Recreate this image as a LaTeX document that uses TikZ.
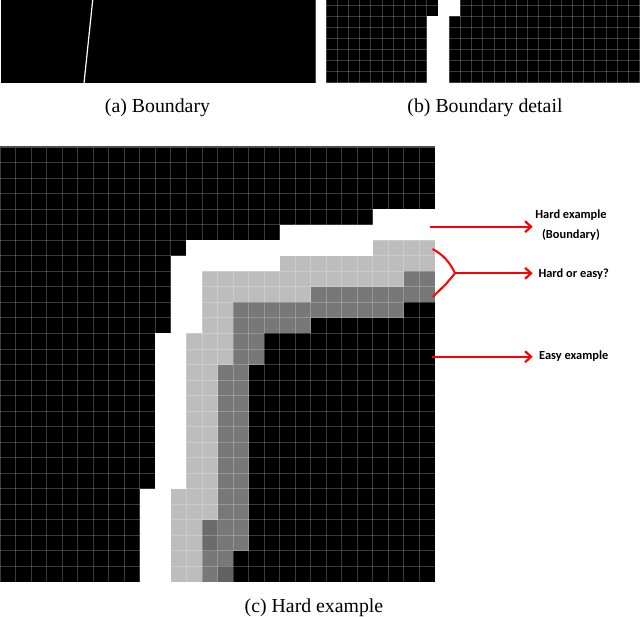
\documentclass[tikz,border=0pt]{standalone}
\usepackage{fontspec}
\setmainfont{Liberation Serif}
\newfontfamily\capfont{Liberation Serif}
\newfontfamily\lblfont{Carlito}
\usetikzlibrary{arrows.meta}
\definecolor{lgray}{HTML}{BDBDBD}
\definecolor{mgray}{HTML}{787878}
\definecolor{lred}{HTML}{FF0000}
\begin{document}
\begin{tikzpicture}[x=1pt,y=-1pt,
  captxt/.style={font=\capfont\fontsize{19.8}{22}\selectfont, anchor=base, inner sep=0pt},
  lbl/.style={font=\lblfont\bfseries\fontsize{12.4}{14}\selectfont, anchor=base west, inner sep=0pt},
  redarrow/.style={draw=lred, line width=2.2pt, -{Straight Barb[length=6pt,width=11pt]}},
  redline/.style={draw=lred, line width=2pt, line cap=round, line join=round},
  gridl/.style={white, opacity=0.22, line width=0.9pt}
]
\useasboundingbox (0,0) rectangle (640,617);

% ---------- panel (a)
\fill[black] (1,0) rectangle (315,83.3);
\draw[white, line width=1.2pt] (92.7,0) -- (84,83.3);
\draw[black!70, line width=0.8pt] (315,0) -- (315,83.3);
\node[captxt] (capa) at (157.5,112.5) {(a) Boundary};

% ---------- panel (b)
\begin{scope}
  \clip (325.5,0) rectangle (640,83.2);
  \fill[black] (326,0) rectangle (640,82.7);
  \begin{scope}[shift={(326,-6.1)}, x=11.2pt, y=-11.1pt]
    \fill[white] (10,0) rectangle (12,2);
    \fill[white] (9,2) rectangle (11,8);
    \foreach \i in {0,...,28} \draw[gridl] (\i,0) -- (\i,8);
    \foreach \j in {0,...,8} \draw[gridl] (0,\j) -- (28,\j);
  \end{scope}
\end{scope}
\node[captxt] (capb) at (485,112.5) {(b) Boundary detail};

% ---------- panel (c)
\begin{scope}[shift={(0,147)}, x=15.536pt, y=-15.536pt]
  \fill[black] (0,0) rectangle (28,28);
  % white band
  \fill[white] (24,4) rectangle (28,5);
  \fill[white] (18,5) rectangle (28,6);
  \fill[white] (12,6) rectangle (24,7);
  \fill[white] (11,7) rectangle (18,8);
  \fill[white] (11,8) rectangle (13,12);
  \fill[white] (10,12) rectangle (12,22);
  \fill[white] (9,22) rectangle (11,28);
  % light gray band
  \fill[lgray] (24,6) rectangle (28,7);
  \fill[lgray] (18,7) rectangle (28,8);
  \fill[lgray] (13,8) rectangle (26,9);
  \fill[lgray] (13,9) rectangle (20,10);
  \fill[lgray] (13,10) rectangle (15,12);
  \fill[lgray] (12,12) rectangle (15,14);
  \fill[lgray] (12,14) rectangle (14,22);
  \fill[lgray] (11,22) rectangle (14,24);
  \fill[lgray] (11,24) rectangle (13,28);
  % mid gray band
  \fill[mgray] (26,8) rectangle (28,9);
  \fill[mgray] (20,9) rectangle (28,10);
  \fill[mgray] (15,10) rectangle (26,11);
  \fill[mgray] (15,11) rectangle (20,12);
  \fill[mgray] (15,12) rectangle (17,14);
  \fill[mgray] (14,14) rectangle (16,24);
  \fill[mgray] (13,24) rectangle (16,26);
  \fill[mgray] (13,26) rectangle (15,28);
  \fill[black!58] (13,24) rectangle (14,26);
  \fill[black!62] (14,27) rectangle (15,28);
  % grid
  \foreach \i in {0,...,28} \draw[gridl] (\i,0) -- (\i,28);
  \foreach \j in {0,...,28} \draw[gridl] (0,\j) -- (28,\j);
  \draw[black!70, line width=1.2pt] (0,0) -- (28,0);
\end{scope}
\node[captxt] (capc) at (314,612.3) {(c) Hard example};

% ---------- annotations
\coordinate (t1) at (430,226.7);
\coordinate (h1) at (532.7,226.7);
\draw[redarrow] (t1) -- (h1);
\node[lbl, anchor=base] (l1) at (571,218.3) {Hard example};
\node[lbl, anchor=base] (l1b) at (571,239) {(Boundary)};

\coordinate (b1) at (433,249.3);
\coordinate (bt) at (455,273.3);
\coordinate (b2) at (433,296.7);
\draw[redline] (b1) .. controls (442,254) and (450,262) .. (bt)
               -- (446,284) -- (b2);
\coordinate (h2) at (532.7,273.3);
\draw[redarrow] (bt) -- (h2);
\node[lbl] (l2) at (538.3,277.7) {Hard or easy?};

\coordinate (t3) at (431.7,356.7);
\coordinate (h3) at (532.7,356.7);
\draw[redarrow] (t3) -- (h3);
\node[lbl] (l3) at (539,360) {Easy example};
\end{tikzpicture}
\end{document}
